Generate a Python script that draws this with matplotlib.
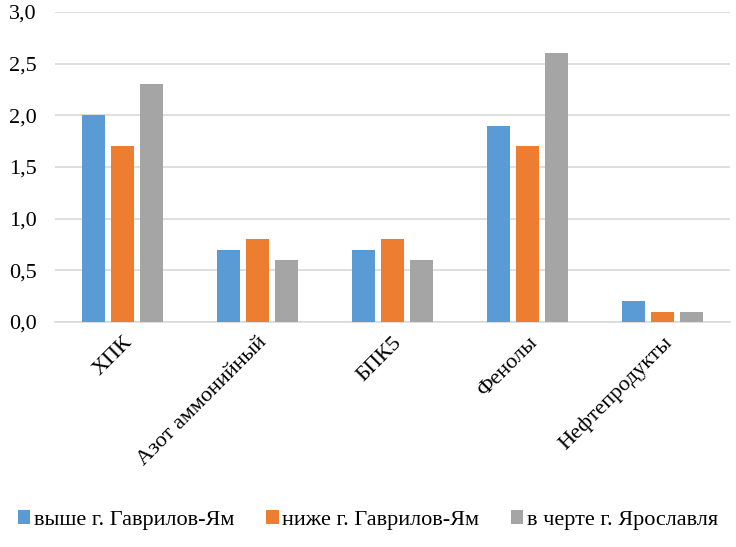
import numpy as np
import matplotlib.pyplot as plt
from matplotlib.ticker import FuncFormatter

plt.rcParams['font.family'] = ['Liberation Serif', 'DejaVu Serif']

# -------------------------
# Data
# -------------------------
categories = ["ХПК", "Азот аммонийный", "БПК5", "Фенолы", "Нефтепродукты"]
series_names = ["выше г. Гаврилов-Ям", "ниже г. Гаврилов-Ям", "в черте г. Ярославля"]
above = [2.0, 0.7, 0.7, 1.9, 0.2]
below = [1.7, 0.8, 0.8, 1.7, 0.1]
yaroslavl = [2.3, 0.6, 0.6, 2.6, 0.1]
colors = ["#5B9BD5", "#ED7D31", "#A5A5A5"]

# -------------------------
# Plot
# -------------------------
fig = plt.figure(figsize=(7.36, 5.47), dpi=100)
ax = fig.add_axes([55 / 736, 1 - 322 / 547, 675 / 736, 310 / 547])

x = np.arange(len(categories))
width = 0.165
step = 0.215
for i, (vals, name, c) in enumerate(zip([above, below, yaroslavl], series_names, colors)):
    ax.bar(x + (i - 1) * step, vals, width, color=c, label=name, zorder=3)

ax.set_xlim(-0.5, len(categories) - 0.5)
ax.set_ylim(0, 3.0)
ax.set_yticks(np.arange(0, 3.01, 0.5))
ax.yaxis.set_major_formatter(FuncFormatter(lambda v, p: f"{v:.1f}".replace(".", ",")))
ax.grid(axis='y', color='#D9D9D9', linewidth=1.2, zorder=0)
for s in ['top', 'right', 'left']:
    ax.spines[s].set_visible(False)
ax.spines['bottom'].set_color('#D9D9D9')
ax.spines['bottom'].set_linewidth(1.2)
ax.tick_params(axis='y', length=0, labelsize=16, pad=13)
ax.tick_params(axis='x', length=0, labelsize=16, pad=8)

ax.set_xticks(x)
ax.set_xticklabels(categories, rotation=45, ha='right', rotation_mode='anchor')

fig.legend(loc='lower center', bbox_to_anchor=(0.5, -0.005), ncol=3, frameon=False,
           fontsize=16, handlelength=0.55, handleheight=0.6, handletextpad=0.15,
           columnspacing=1.45)

fig.savefig("out.png", dpi=100)
